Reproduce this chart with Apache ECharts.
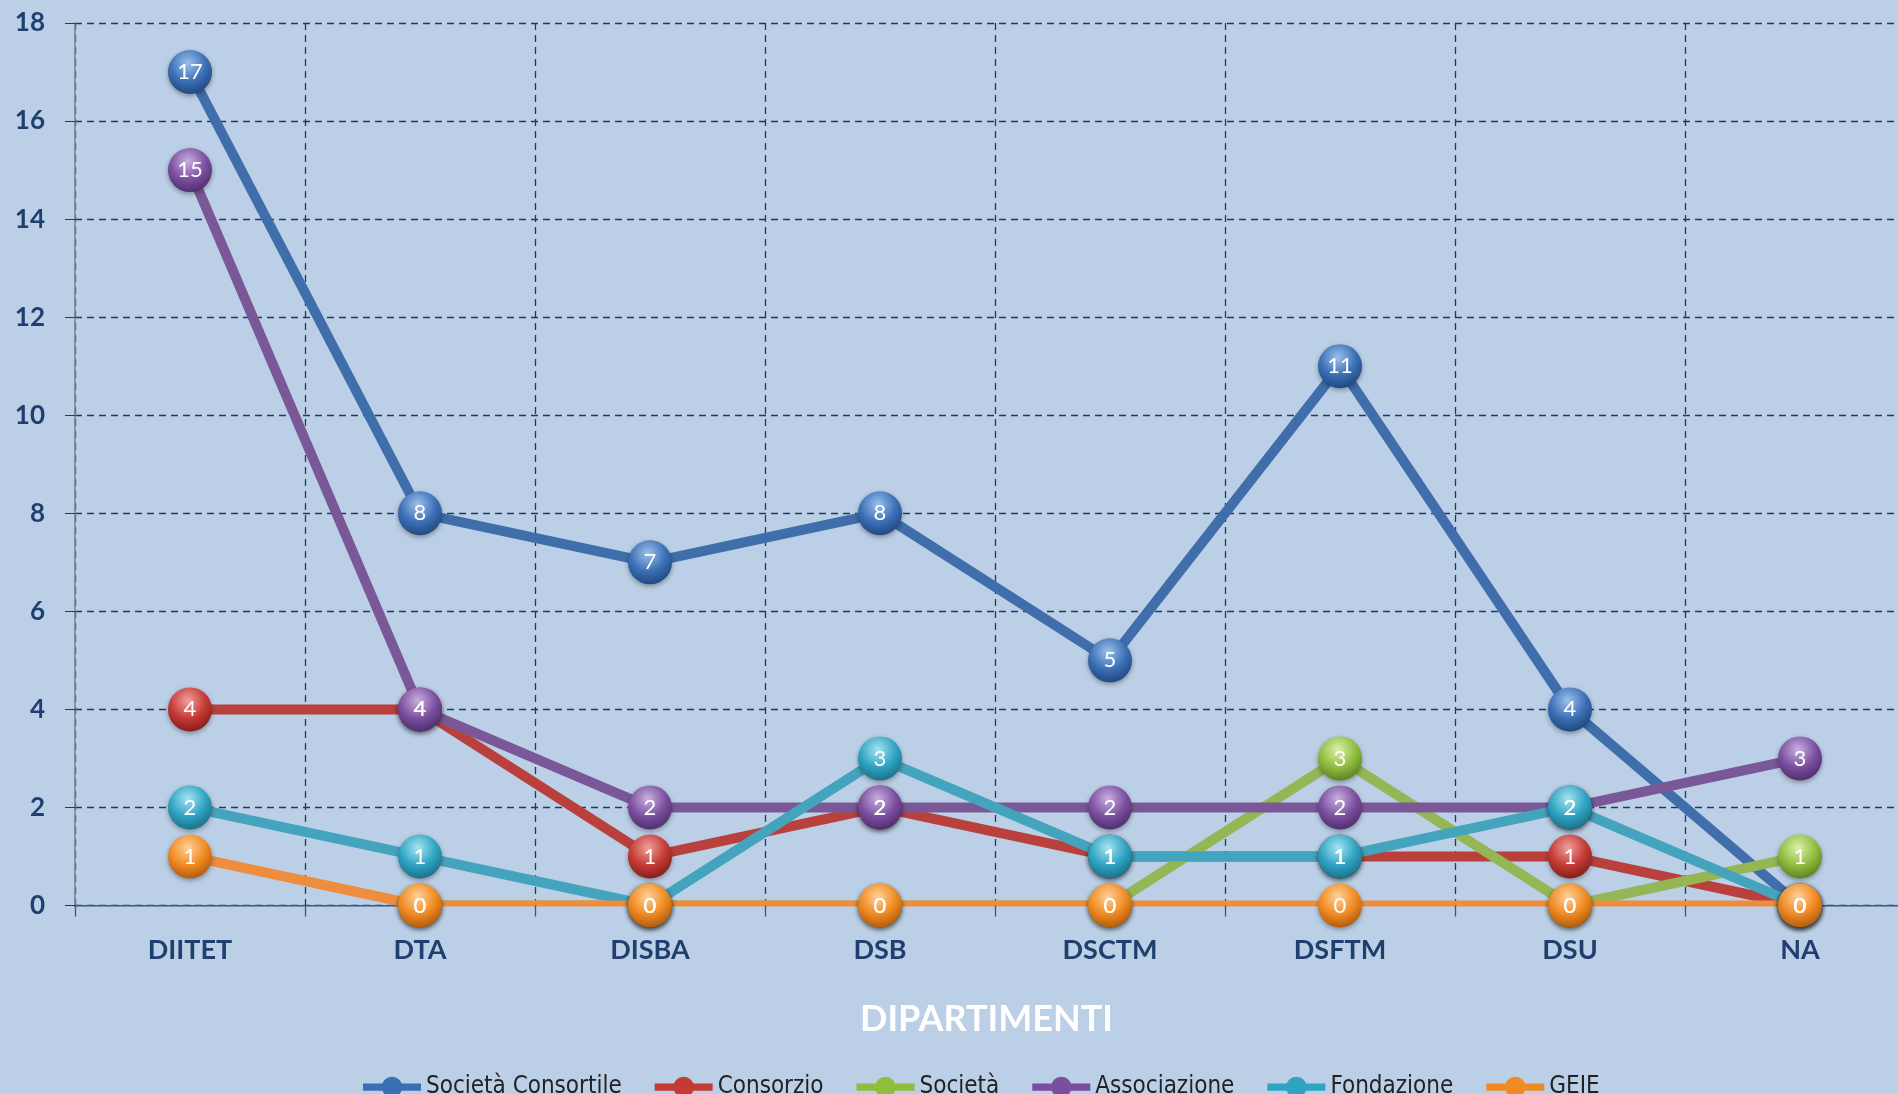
<!DOCTYPE html>
<html>
<head>
<meta charset="utf-8">
<script src="https://cdn.jsdelivr.net/npm/echarts@6/dist/echarts.min.js"></script>
<style>
  html, body { margin: 0; padding: 0; background: #bbcfe6; }
  #chart { width: 1898px; height: 1094px; }
</style>
</head>
<body>
<div id="chart"></div>
<script>
  // categorie (asse x)
  var dipartimenti = ['DIITET', 'DTA', 'DISBA', 'DSB', 'DSCTM', 'DSFTM', 'DSU', 'NA'];
  // valori per tipo di ente
  var consortile = [17, 8, 7, 8, 5, 11, 4, 0];
  var consorzio = [4, 4, 1, 2, 1, 1, 1, 0];
  var societa = [null, 0, 0, 0, 0, 3, 0, 1];
  var associazione = [15, 4, 2, 2, 2, 2, 2, 3];
  var fondazione = [2, 1, 0, 3, 1, 1, 2, 0];
  var geie = [1, 0, 0, 0, 0, 0, 0, 0];

  var serie = [
    { name: 'Società Consortile', data: consortile, line: '#3f6eab', light: '#9cc0ec', mid: '#3b6fb5', dark: '#1c4378' },
    { name: 'Consorzio', data: consorzio, line: '#b9403c', light: '#f0a09c', mid: '#c43a35', dark: '#7e1a17' },
    { name: 'Società', data: societa, line: '#94b654', light: '#dcf0a8', mid: '#8fbd3e', dark: '#587a1e' },
    { name: 'Associazione', data: associazione, line: '#7a5897', light: '#c8b0e0', mid: '#7b4f9f', dark: '#4a2a68' },
    { name: 'Fondazione', data: fondazione, line: '#45a4bd', light: '#a6e4f2', mid: '#2fa3c2', dark: '#176a82' },
    { name: 'GEIE', data: geie, line: '#ee8d3e', light: '#ffd199', mid: '#f08a22', dark: '#a8550b' }
  ];

  var gridLeft = 75, gridTop = 23, gridH = 882.5, gridW = 1840;
  var legendIcon = 'path://M0,6.5H18.7V13.5H0Z M37.3,6.5H56V13.5H37.3Z M38,10A10,10 0 1 1 18,10A10,10 0 1 1 38,10Z';

  var chart = echarts.init(document.getElementById('chart'));

  // marker (sfere) sopra, linee sotto
  var markerSeries = serie.map(function (s) {
    return {
      name: s.name,
      type: 'line',
      data: s.data,
      z: 4,
      symbol: 'circle',
      symbolSize: 44,
      lineStyle: { width: 0, opacity: 0 },
      itemStyle: {
        color: {
          type: 'radial', x: 0.45, y: 0.3, r: 0.75,
          colorStops: [
            { offset: 0, color: s.light },
            { offset: 0.55, color: s.mid },
            { offset: 1, color: s.dark }
          ]
        },
        shadowColor: 'rgba(0,0,0,0.35)',
        shadowBlur: 5,
        shadowOffsetY: 2
      },
      label: {
        show: true,
        position: 'inside',
        color: '#ffffff',
        fontSize: 22,
        fontFamily: 'Lato'
      },
      emphasis: { disabled: true }
    };
  });
  var lineSeries = serie.map(function (s) {
    return {
      name: s.name,
      type: 'line',
      data: s.data,
      z: 2,
      symbol: 'none',
      clip: true,
      lineStyle: { color: s.line, width: 10 },
      itemStyle: { color: s.mid },
      emphasis: { disabled: true }
    };
  });

  chart.setOption({
    backgroundColor: '#bbcfe6',
    animation: false,
    grid: { left: gridLeft, top: gridTop, height: gridH, width: gridW, outerBoundsMode: 'none', containLabel: false },
    legend: {
      left: 358,
      top: 1070,
      itemWidth: 58,
      itemHeight: 21,
      itemGap: 33,
      textStyle: { fontFamily: 'DejaVu Sans Condensed', fontSize: 24, color: '#222' },
      data: serie.map(function (s) {
        return { name: s.name, icon: legendIcon, itemStyle: { color: s.mid } };
      })
    },
    // copre la metà inferiore delle linee sull'asse zero (come nell'originale)
    graphic: [{
      type: 'rect',
      z: 3,
      silent: true,
      shape: { x: gridLeft, y: gridTop + gridH + 1, width: 1898 - gridLeft, height: 5 },
      style: { fill: '#bbcfe6' }
    }],
    xAxis: [{
      type: 'category',
      data: dipartimenti,
      boundaryGap: true,
      name: 'DIPARTIMENTI',
      nameLocation: 'middle',
      nameGap: 96,
      nameTextStyle: { color: '#ffffff', fontSize: 36, fontWeight: 'bold', fontFamily: 'Lato', padding: [0, 17, 0, 0] },
      axisLine: { lineStyle: { color: '#2f5a8c', width: 2 } },
      axisTick: { show: false },
      axisLabel: { color: '#1f3f6e', fontSize: 27, fontWeight: 'bold', fontFamily: 'Lato', margin: 31 },
      splitLine: { show: true, lineStyle: { color: '#1e3a5f', type: [7, 5], width: 1.3 } }
    }, {
      // solo le tacche, sopra la copertura
      type: 'category',
      data: dipartimenti,
      position: 'bottom',
      z: 3.5,
      axisLine: { show: false },
      axisTick: { show: true, length: 11, lineStyle: { color: '#2f5a8c', width: 1.3 } },
      axisLabel: { show: false },
      splitLine: { show: false }
    }],
    yAxis: {
      type: 'value',
      min: 0,
      max: 18,
      interval: 2,
      axisLine: { show: true, lineStyle: { color: '#808080', width: 1.5 } },
      axisTick: { show: true, length: 10, lineStyle: { color: '#1e3a5f' } },
      axisLabel: { color: '#1f3f6e', fontSize: 26, fontWeight: 'bold', fontFamily: 'Lato', margin: 30 },
      splitLine: { show: true, lineStyle: { color: '#1e3a5f', type: [7, 5], width: 1.3 } }
    },
    series: markerSeries.concat(lineSeries)
  });
</script>
</body>
</html>
